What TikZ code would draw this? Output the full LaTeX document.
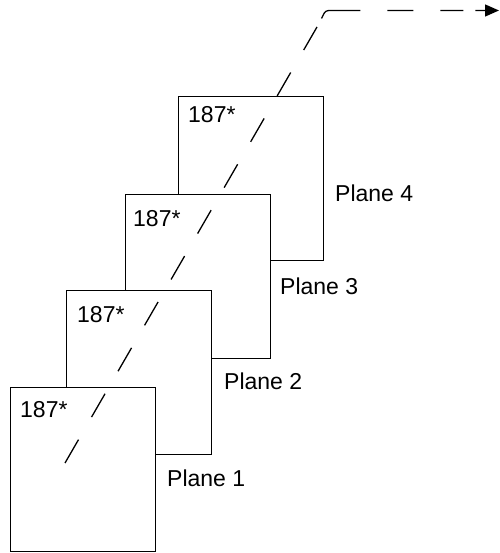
\documentclass[tikz,border=0pt]{standalone}
\usepackage{fontspec}
\setmainfont{Liberation Sans}
\usetikzlibrary{arrows.meta}
\begin{document}
\begin{tikzpicture}[x=1pt,y=1pt,
  plane/.style={draw, fill=white, line width=1.1pt, anchor=south west, inner sep=0pt,
    minimum width=145pt, minimum height=164pt},
  lbl/.style={anchor=base west, inner sep=0pt, font=\fontsize{23}{27}\selectfont},
  beam/.style={line width=1.3pt}]
\useasboundingbox (0,0) rectangle (499,553);
\node[plane] (p4) at (178,292) {};
\node[plane] (p3) at (125,194) {};
\node[plane] (p2) at (66,98) {};
\node[plane] (p1) at (10,1) {};
\node[lbl] (t1) at (20,135) {187*};
\node[lbl] (t2) at (77,230) {187*};
\node[lbl] (t3) at (133,326) {187*};
\node[lbl] (t4) at (188,430) {187*};
\node[lbl] (l1) at (167,66) {Plane 1};
\node[lbl] (l2) at (224,163) {Plane 2};
\node[lbl] (l3) at (280,258) {Plane 3};
\node[lbl] (l4) at (335,351) {Plane 4};
\coordinate (b0) at (65,90);
\coordinate (b1) at (317,526);
\coordinate (b2) at (321.5,534.5);
\coordinate (bc) at (325.5,542.5);
\coordinate (b3) at (499,542.5);
\draw[beam, dash pattern=on 27pt off 26pt] (b0) -- (b1);
\draw[beam, rounded corners=3pt, dash pattern=on 43pt off 27pt on 26pt off 27pt on 23pt off 12pt on 100pt,
  -{Triangle[length=14pt,width=12pt]}] (b2) -- (bc) -- (b3);
\end{tikzpicture}
\end{document}
